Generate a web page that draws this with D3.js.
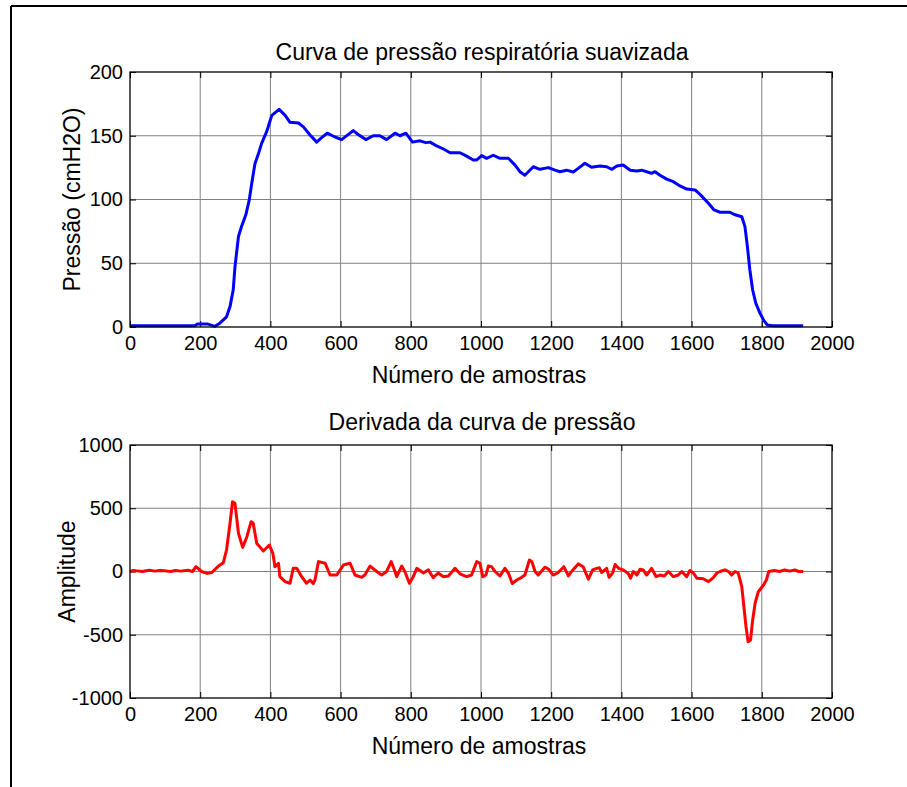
<!DOCTYPE html>
<html>
<head>
<meta charset="utf-8">
<script src="https://cdn.jsdelivr.net/npm/d3@7"></script>
<style>
  html, body { margin: 0; padding: 0; background: #fff; }
  svg { display: block; }
  text { font-family: "Liberation Sans", Arial, sans-serif; fill: #000; }
</style>
</head>
<body>
<svg id="chart" width="907" height="787"></svg>
<script>
// ---------- data ----------
const xTicks = [0, 200, 400, 600, 800, 1000, 1200, 1400, 1600, 1800, 2000];
const pressureTicks = [0, 50, 100, 150, 200];
const derivTicks = [-1000, -500, 0, 500, 1000];

const pressureX = [0,100,185,192,222,242,256,275,285,294,299,309,318,330,340,347,356,366,375,389,404,425,442,456,480,494,513,532,546,562,584,603,636,650,672,693,712,731,755,769,786,805,826,843,855,874,893,912,940,959,978,988,1002,1016,1035,1054,1078,1097,1111,1125,1149,1168,1192,1211,1225,1244,1263,1277,1296,1315,1339,1358,1373,1387,1405,1425,1444,1458,1472,1486,1496,1510,1529,1548,1567,1586,1610,1624,1648,1664,1681,1709,1724,1743,1752,1759,1766,1774,1783,1795,1806,1816,1830,1918];
const pressureY = [1,1,1,2.3,2.3,0.5,3,8,16,29,47,71,79,88,100,113,128,136,144,153,166,170.7,166,160.5,160,157,150.6,145,148.5,152,149,147,154,151,147,150,150,147,152,150,152,145,146,144.6,145,142,139.6,136.7,136.7,134,131,131,134.4,132.3,134.7,132.3,132.3,127,121.8,119,125.7,123.7,125,123,121.8,123,121.6,124.4,128.4,125.3,126.3,125.7,123.7,126.3,127,123,122.4,123,121.8,120.5,121.8,119,116,114,110.6,108.2,107.5,104,97,91.8,90,90,88,86.5,78.7,63,44.7,29,18.6,10.7,5,1.6,1,1];

const derivX = [0,10,20,35,55,70,85,100,115,130,145,165,178,188,204,220,233,252,266,275,285,292,299,309,321,333,345,351,361,380,397,407,413,423,427,442,456,465,475,489,503,513,522,527,537,556,570,589,608,627,641,660,669,684,703,717,731,744,755,760,774,783,796,807,817,836,850,864,878,893,907,926,940,959,973,988,997,1005,1014,1021,1030,1040,1054,1068,1078,1089,1102,1116,1125,1138,1145,1154,1163,1182,1192,1206,1220,1236,1249,1258,1277,1291,1306,1318,1330,1337,1344,1358,1365,1375,1382,1392,1405,1420,1426,1434,1444,1453,1462,1472,1486,1499,1510,1522,1534,1548,1562,1572,1586,1595,1605,1615,1633,1648,1662,1672,1681,1695,1705,1714,1724,1733,1743,1749,1755,1761,1768,1774,1781,1790,1805,1813,1820,1836,1851,1865,1880,1894,1905,1918];
const derivY = [0,8,5,0,10,3,8,5,0,8,3,10,0,38,0,-15,-8,43,70,170,381,552,539,302,191,275,394,381,223,162,209,144,38,65,-41,-80,-93,25,25,-41,-93,-67,-95,-67,78,65,-28,-28,51,65,-28,-46,-28,43,0,-28,0,78,0,-41,43,0,-93,-41,25,-12,13,-49,-12,-41,-35,25,-18,-41,-28,78,65,-41,-28,43,38,0,-35,25,-12,-95,-67,-46,-28,91,78,0,-28,34,20,-28,-8,38,-35,0,60,38,-60,13,25,30,-8,25,-46,-12,55,25,13,-18,-53,0,-28,18,13,-28,25,-41,-28,-35,0,-41,-28,0,-41,8,-12,-53,-57,-80,-49,-12,0,13,0,-28,0,-12,-120,-278,-436,-555,-541,-383,-251,-160,-107,-67,0,8,0,13,3,13,0,0];

// ---------- layout ----------
const svg = d3.select("#chart");
const L = 130, R = 832;
const FONT = '"Liberation Sans", Arial, sans-serif';

// outer frame (top and left edges)
svg.append("line").attr("x1", 11).attr("x2", 907).attr("y1", 6).attr("y2", 6).attr("stroke", "#000").attr("stroke-width", 2);
svg.append("line").attr("x1", 11).attr("x2", 11).attr("y1", 6).attr("y2", 787).attr("stroke", "#000").attr("stroke-width", 2);

function panel(opts) {
  const { top, bottom, yDomain, yTicks, xs, ys, color, title, titleY, ylabel, ylabelX, xlabelY } = opts;
  const x = d3.scaleLinear().domain([0, 2000]).range([L, R]);
  const y = d3.scaleLinear().domain(yDomain).range([bottom, top]);
  const g = svg.append("g");

  // grid
  g.append("g").selectAll("line").data(xTicks.slice(1, -1)).join("line")
    .attr("x1", d => x(d)).attr("x2", d => x(d)).attr("y1", top).attr("y2", bottom)
    .attr("stroke", "#808080").attr("stroke-width", 1);
  g.append("g").selectAll("line").data(yTicks.slice(1, -1)).join("line")
    .attr("y1", d => y(d)).attr("y2", d => y(d)).attr("x1", L).attr("x2", R)
    .attr("stroke", "#808080").attr("stroke-width", 1);

  // axes with inward ticks
  const tl = 6;
  const fmt = d => String(d);
  const bx = g.append("g").attr("transform", `translate(0,${bottom})`)
    .call(d3.axisBottom(x).tickValues(xTicks).tickSize(-tl).tickPadding(tl + 3).tickFormat(fmt));
  const tx = g.append("g").attr("transform", `translate(0,${top})`)
    .call(d3.axisTop(x).tickValues(xTicks).tickSize(-tl).tickFormat(""));
  const ly = g.append("g").attr("transform", `translate(${L},0)`)
    .call(d3.axisLeft(y).tickValues(yTicks).tickSize(-tl).tickPadding(tl + 1).tickFormat(fmt));
  const ry = g.append("g").attr("transform", `translate(${R},0)`)
    .call(d3.axisRight(y).tickValues(yTicks).tickSize(-tl).tickFormat(""));
  [bx, tx, ly, ry].forEach(a => {
    a.select(".domain").remove();
    a.selectAll(".tick line").attr("stroke", "#000");
    a.selectAll("text").style("font-family", FONT).style("font-size", "20px").attr("fill", "#000");
  });
  bx.selectAll("text").attr("dy", "0.71em");

  // line
  const pts = xs.map((v, i) => [v, ys[i]]);
  g.append("path").datum(pts)
    .attr("fill", "none").attr("stroke", color).attr("stroke-width", 3).attr("stroke-linejoin", "round")
    .attr("d", d3.line().x(d => x(d[0])).y(d => y(d[1])));

  // box
  g.append("rect").attr("x", L).attr("y", top).attr("width", R - L).attr("height", bottom - top)
    .attr("fill", "none").attr("stroke", "#000").attr("stroke-width", 1.3);

  // texts
  g.append("text").attr("x", (L + R) / 2 + 1).attr("y", titleY).attr("text-anchor", "middle")
    .style("font-family", FONT).style("font-size", "23px").text(title);
  g.append("text").attr("x", (L + R) / 2 - 2).attr("y", xlabelY).attr("text-anchor", "middle")
    .style("font-family", FONT).style("font-size", "23px").text("Número de amostras");
  g.append("text").attr("transform", `translate(${ylabelX},${(top + bottom) / 2}) rotate(-90)`)
    .attr("text-anchor", "middle").style("font-family", FONT).style("font-size", "23px").text(ylabel);
}

panel({ top: 72, bottom: 327, yDomain: [0, 200], yTicks: pressureTicks, xs: pressureX, ys: pressureY,
  color: "#0000ff", title: "Curva de pressão respiratória suavizada", titleY: 60,
  ylabel: "Pressão (cmH2O)", ylabelX: 80, xlabelY: 383 });

panel({ top: 445, bottom: 698, yDomain: [-1000, 1000], yTicks: derivTicks, xs: derivX, ys: derivY,
  color: "#ff0000", title: "Derivada da curva de pressão", titleY: 430,
  ylabel: "Amplitude", ylabelX: 75, xlabelY: 754 });
</script>
</body>
</html>
